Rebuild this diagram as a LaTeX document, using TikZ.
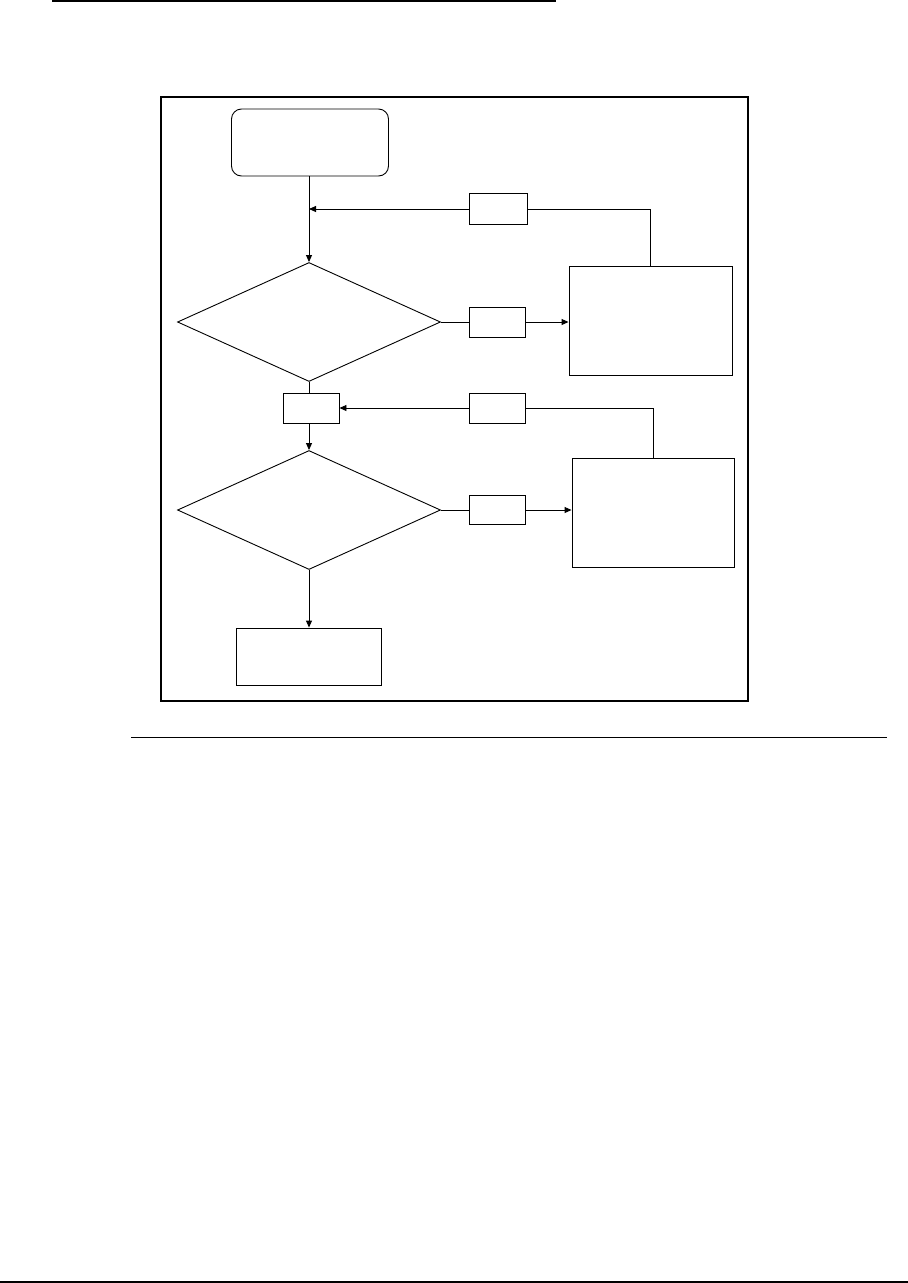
\documentclass[tikz,border=0pt]{standalone}
\usetikzlibrary{positioning, arrows.meta, shapes.geometric}

\begin{document}
\begin{tikzpicture}[
    x=1pt, y=-1pt,
    >={Triangle[length=7pt, width=6pt]},
    line width=0.9pt,
    startbox/.style={draw, rounded corners=10pt, inner sep=0pt,
        minimum width=157pt, minimum height=67pt},
    decision/.style={draw, diamond, inner sep=0pt,
        minimum width=263pt, minimum height=119pt},
    tagbox/.style={draw, inner sep=0pt, minimum width=56pt, minimum height=30pt},
    procbox/.style={draw, inner sep=0pt, minimum width=163pt, minimum height=109pt},
]

\def\colx{309}

% --- Page ---
\useasboundingbox (0,0) rectangle (908,1283);
\draw[line width=2pt] (52,1) -- (556,1);
\draw[line width=2pt] (161,97) rectangle (748,701);
\draw[line width=1pt] (131,737) -- (887,737);
\draw[line width=1.3pt] (0,1282) -- (908,1282);

% --- Main column ---
\node[startbox] (start) at (\colx+1, 142.5) {};
\node[decision] (dec1) at (\colx, 322) {};
\node[tagbox] (mid) at (\colx+2, 408) {};
\node[decision] (dec2) at (\colx, 510) {};
\node[draw, inner sep=0pt, minimum width=145pt, minimum height=57pt]
    (finish) at (\colx, 656.5) {};

% --- Right side ---
\node[tagbox, minimum width=58pt, minimum height=31pt] (back1) at (498, 209) {};
\node[tagbox] (yes1) at (497.5, 322) {};
\node[procbox] (proc1) at (650.5, 320.5) {};
\node[tagbox] (back2) at (497.5, 408) {};
\node[tagbox, minimum height=29pt] (yes2) at (497.5, 510) {};
\node[procbox, minimum width=162pt] (proc2) at (653, 512.5) {};

\coordinate (join1) at (\colx, 209);

% --- Connectors ---
\draw[->] (start.south -| dec1.north) -- (dec1.north);
\draw (dec1.south) -- (dec1.south |- mid.north);
\draw[->] (dec2.north |- mid.south) -- (dec2.north);
\draw[->] (dec2.south) -- (finish.north);

\draw (dec1.east) -- (yes1.west);
\draw[->] (yes1.east) -- (yes1.east -| proc1.west);
\draw (proc1.north) |- (back1.east);
\draw[->] (back1.west) -- (join1);

\draw (dec2.east) -- (yes2.west);
\draw[->] (yes2.east) -- (yes2.east -| proc2.west);
\draw (proc2.north) |- (back2.east);
\draw[->] (back2.west) -- (mid.east);

\end{tikzpicture}
\end{document}
